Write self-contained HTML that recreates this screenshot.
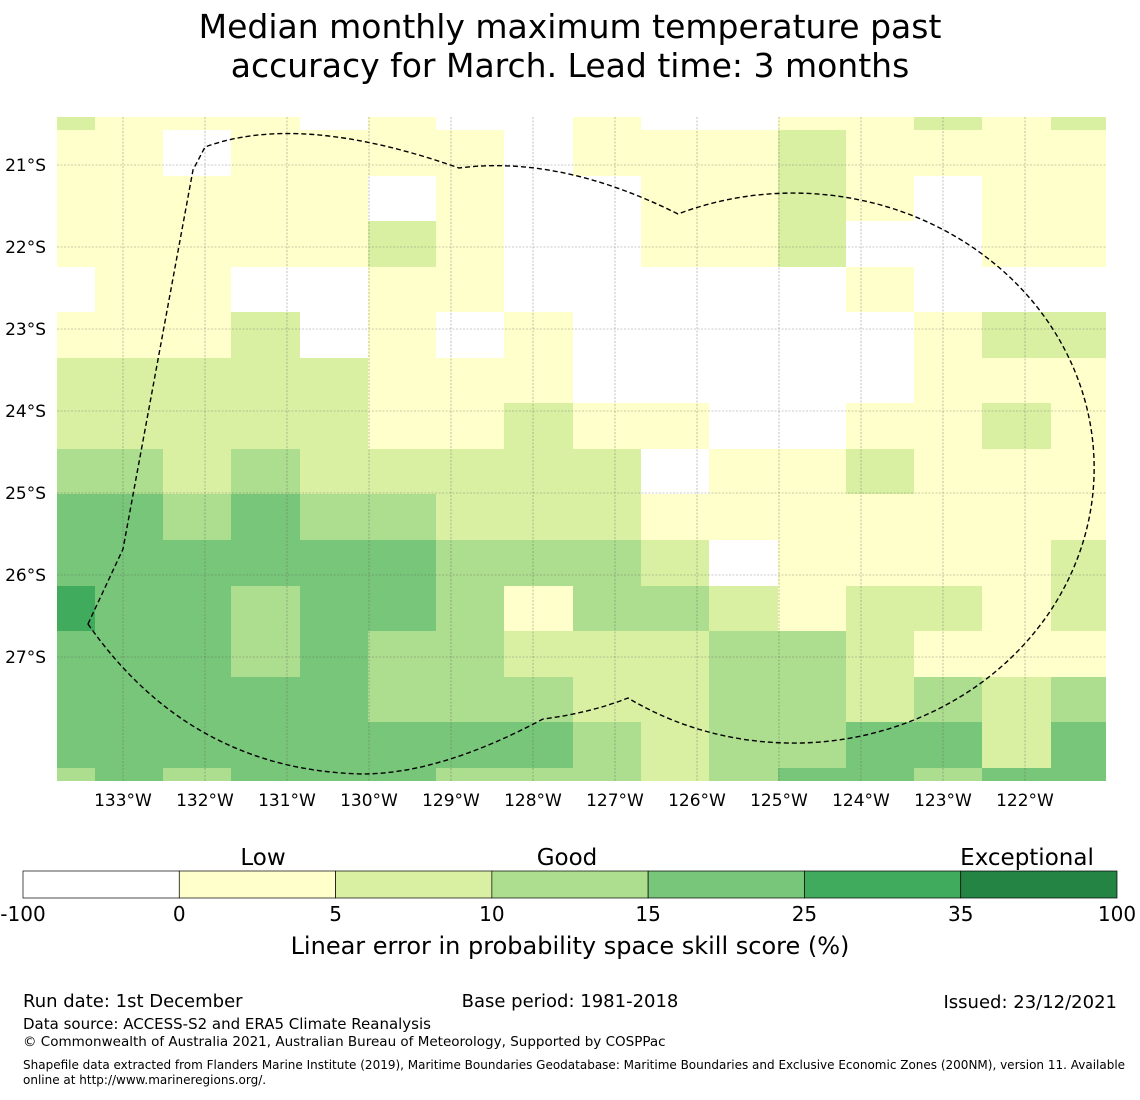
<!DOCTYPE html>
<html><head><meta charset="utf-8">
<style>
body{margin:0;background:#fff;width:1140px;height:1095px;overflow:hidden;font-family:"Liberation Sans","DejaVu Sans",sans-serif;}
svg text{font-family:"DejaVu Sans","Liberation Sans",sans-serif;}
</style></head>
<body>
<svg id="chart" width="1140" height="1095" xmlns="http://www.w3.org/2000/svg">
<text x="570" y="38" font-size="33" text-anchor="middle">Median monthly maximum temperature past</text>
<text x="570" y="77" font-size="33" text-anchor="middle">accuracy for March. Lead time: 3 months</text>
<g id="cells"></g>
<g id="grid"></g>
<path d="M88,624 L123,549 L193,170 L205,147 Q300,112 459,168 Q560,155 678,214 A301 275 0 1 1 628,698 Q590,713 543,719 Q440,774 362,774 Q190,770 88,624 Z" fill="none" stroke="#000" stroke-width="1.4" stroke-dasharray="5,3"/>
<g id="axes"></g>
<g id="cbar"></g>
<text x="570" y="954" font-size="24" text-anchor="middle">Linear error in probability space skill score (%)</text>
<text x="23" y="1007" font-size="18">Run date: 1st December</text>
<text x="570" y="1007" font-size="18" text-anchor="middle">Base period: 1981-2018</text>
<text x="1117" y="1008" font-size="18" text-anchor="end">Issued: 23/12/2021</text>
<text x="23" y="1029" font-size="15">Data source: ACCESS-S2 and ERA5 Climate Reanalysis</text>
<text x="23" y="1046" font-size="13.5">© Commonwealth of Australia 2021, Australian Bureau of Meteorology, Supported by COSPPac</text>
<text x="23" y="1069" font-size="12">Shapefile data extracted from Flanders Marine Institute (2019), Maritime Boundaries Geodatabase: Maritime Boundaries and Exclusive Economic Zones (200NM), version 11. Available</text>
<text x="23" y="1084" font-size="12">online at http://www.marineregions.org/.</text>
</svg>
<script>
const colorClasses = ["#ffffff","#ffffcc","#d9f0a3","#addd8e","#78c679","#41ab5d","#238443"];
const bounds = ["-100","0","5","10","15","25","35","100"];
const levelNames = ["Low","Good","Exceptional"];
const lonTicks = [133,132,131,130,129,128,127,126,125,124,123,122];
const latTicks = [21,22,23,24,25,26,27];
// skill class per cell, rows north->south, cols west->east
const skill = [
"2111010010011212",
"1101111011121111",
"1111101001121011",
"1111121001120011",
"0110011000001000",
"1112010100000122",
"2222211100000111",
"2222211211001121",
"3323222220112111",
"4434332221111111",
"4444443332011112",
"5443443133212212",
"4443433222332111",
"4444433322332323",
"4444444432334424",
"3434443332344344"
];
const colEdges=[57,95,163,231,300,368,436,504,573,641,709,778,846,914,982,1051,1106];
const rowEdges=[117,130,176,221,267,312,358,403,449,494,540,586,631,677,722,768,781];
const NS="http://www.w3.org/2000/svg";
const cells=document.getElementById('cells');
skill.forEach((row,r)=>{for(let c=0;c<row.length;c++){
  const el=document.createElementNS(NS,'rect');
  el.setAttribute('x',colEdges[c]);el.setAttribute('y',rowEdges[r]);
  el.setAttribute('width',colEdges[c+1]-colEdges[c]);el.setAttribute('height',rowEdges[r+1]-rowEdges[r]);
  el.setAttribute('fill',colorClasses[+row[c]]);
  
  
  cells.appendChild(el);
}});
const lonX=d=>123+(133-d)*82;
const latY=d=>165+(d-21)*82;
const grid=document.getElementById('grid'), axes=document.getElementById('axes');
lonTicks.forEach(d=>{
  const l=document.createElementNS(NS,'line');
  l.setAttribute('x1',lonX(d));l.setAttribute('x2',lonX(d));l.setAttribute('y1',117);l.setAttribute('y2',781);
  l.setAttribute('stroke','#555');l.setAttribute('stroke-width','0.6');l.setAttribute('stroke-dasharray','2,1.5');l.setAttribute('opacity','0.6');
  
  
  grid.appendChild(l);
  const t=document.createElementNS(NS,'text');
  t.setAttribute('x',lonX(d));t.setAttribute('y',806);t.setAttribute('font-size','17');t.setAttribute('text-anchor','middle');
  t.textContent=d+'°W';
  
  
  axes.appendChild(t);
});
latTicks.forEach(d=>{
  const l=document.createElementNS(NS,'line');
  l.setAttribute('x1',57);l.setAttribute('x2',1106);l.setAttribute('y1',latY(d));l.setAttribute('y2',latY(d));
  l.setAttribute('stroke','#555');l.setAttribute('stroke-width','0.6');l.setAttribute('stroke-dasharray','2,1.5');l.setAttribute('opacity','0.6');
  
  
  grid.appendChild(l);
  const t=document.createElementNS(NS,'text');
  t.setAttribute('x',46);t.setAttribute('y',latY(d)+6);t.setAttribute('font-size','17');t.setAttribute('text-anchor','end');
  t.textContent=d+'°S';
  
  
  axes.appendChild(t);
});
const cbar=document.getElementById('cbar');
const cx0=23,cx1=1117,segW=(cx1-cx0)/colorClasses.length;
colorClasses.forEach((col,i)=>{
  const r=document.createElementNS(NS,'rect');
  r.setAttribute('x',cx0+i*segW);r.setAttribute('y',871);r.setAttribute('width',segW);r.setAttribute('height',27);
  r.setAttribute('fill',col);r.setAttribute('stroke','#000');r.setAttribute('stroke-width','0.7');
  
  
  cbar.appendChild(r);
});
bounds.forEach((b,i)=>{
  const t=document.createElementNS(NS,'text');
  t.setAttribute('x',cx0+i*segW);t.setAttribute('y',921);t.setAttribute('font-size','20');t.setAttribute('text-anchor','middle');
  t.textContent=b;
  
  
  cbar.appendChild(t);
});
const levelX=[263,567,1027];
levelNames.forEach((n,i)=>{
  const t=document.createElementNS(NS,'text');
  t.setAttribute('x',levelX[i]);t.setAttribute('y',865);t.setAttribute('font-size','23');t.setAttribute('text-anchor','middle');
  t.textContent=n;
  
  
  cbar.appendChild(t);
});
</script>
</body></html>
